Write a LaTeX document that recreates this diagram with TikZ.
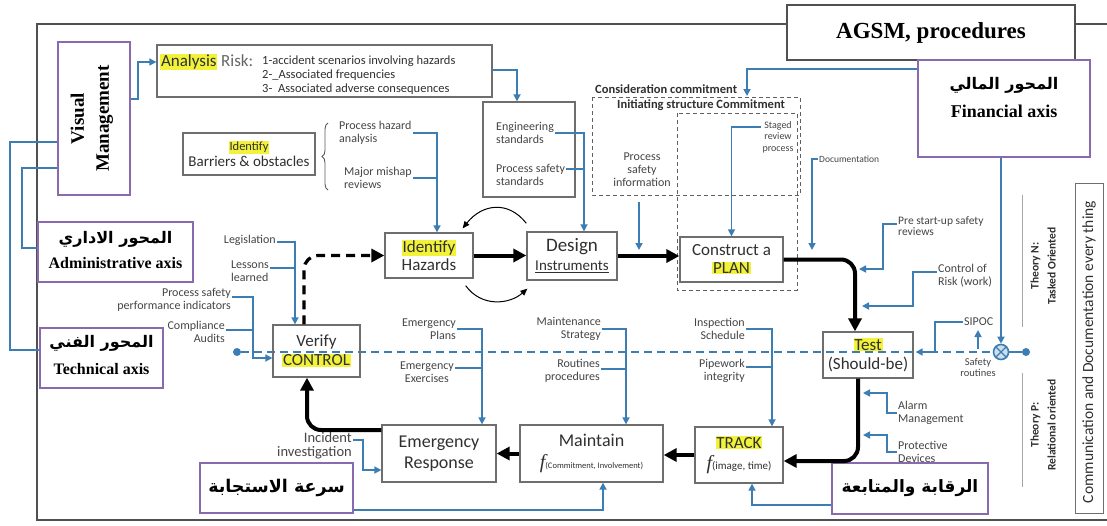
\documentclass[tikz,border=0pt]{standalone}
\usepackage{fontspec}
\setmainfont{Carlito}
\newfontfamily\tnr{Liberation Serif}
\newfontfamily\arabicfont[Script=Arabic]{DejaVu Sans}
\TeXXeTstate=1
\usetikzlibrary{arrows.meta,decorations.pathreplacing}
\definecolor{bl}{HTML}{3C7DB4}
\definecolor{pur}{HTML}{8A6AAE}
\definecolor{hly}{HTML}{F2F23A}
\definecolor{frm}{HTML}{505050}
\definecolor{bx}{HTML}{6E6E6E}
\definecolor{tx}{HTML}{303030}
\definecolor{lb}{HTML}{454545}
\newcommand\hy[1]{{\setlength{\fboxsep}{0.8pt}\colorbox{hly}{#1}}}
\newcommand\fs[2]{\fontsize{#1}{#2}\selectfont}
\begin{document}
\begin{tikzpicture}[x=1pt,y=-1pt,
  mbox/.style={draw=bx, line width=1.3pt, align=center, inner sep=1pt, text=tx},
  pbox/.style={draw=pur, line width=1.6pt, fill=white, inner sep=0pt},
  lbl/.style={font=\fs{12}{13}, text=lb, inner sep=1pt},
  bline/.style={draw=bl, line width=1.6pt},
  barr/.style={bline, -{Triangle[length=7pt,width=7pt]}},
  karr/.style={line width=4pt, -{Triangle[length=13pt,width=13pt]}, rounded corners=14pt},
  dbox/.style={draw=gray!75!black, line width=0.9pt, dash pattern=on 4pt off 3pt},
  arb/.style={font=\arabicfont\bfseries, inner sep=0pt},
  enb/.style={font=\tnr\bfseries, inner sep=0pt},
]
\useasboundingbox (0,0) rectangle (1107,525);
\fill[white] (0,0) rectangle (1107,525);
% outer frame
\draw[frm, line width=2.5pt] (37,24) rectangle (1125,520);

% ---------- dashed blue control line (behind boxes)
\node[circle, fill=bl, inner sep=0pt, minimum size=8pt] (dl) at (237,352) {};
\node[circle, draw=bl, fill=bl!25, line width=1.6pt, inner sep=0pt, minimum size=15pt] (cx) at (1001,352) {};
\draw[bl, line width=1.2pt] (cx.north east) -- (cx.south west) (cx.north west) -- (cx.south east);
\node[circle, fill=bl, inner sep=0pt, minimum size=8pt] (dr) at (1026,352) {};
\draw[bl, line width=2pt, dash pattern=on 8pt off 5pt] (dl) -- (cx.west);
\draw[bline] (cx.east) -- (dr);

% ---------- main boxes
\node[mbox, minimum width=88pt, minimum height=45pt, font=\fs{17}{18}] (ih) at (429,255.5) {\hy{Identify}\\Hazards};
\node[mbox, minimum width=90pt, minimum height=48pt, font=\fs{17}{19}] (di) at (572,256) {{\fs{19}{19}Design}\\{\fs{15}{16}\underline{Instruments}}};
\node[mbox, minimum width=103pt, minimum height=45pt, font=\fs{17}{18}] (cp) at (731.5,259.5) {Construct a\\\hy{PLAN}};
\node[mbox, minimum width=90pt, minimum height=46pt, font=\fs{17}{19}] (te) at (868,355) {\hy{Test}\\(Should-be)};
\node[mbox, minimum width=88pt, minimum height=56pt, font=\fs{17}{21}] (tr) at (739,455) {\hy{TRACK}\\{\tnr\itshape\fs{20}{20}f}{\fs{11}{12}(image, time)}};
\node[mbox, minimum width=143pt, minimum height=57pt, font=\fs{18}{22}] (ma) at (591.5,453.5) {Maintain\\{\tnr\itshape\fs{20}{20}f}{\fs{8.5}{10}(Commitment, Involvement)}};
\node[mbox, minimum width=114pt, minimum height=57pt, font=\fs{18}{21}] (er) at (439,453.5) {Emergency\\Response};
\node[mbox, minimum width=87pt, minimum height=52pt, font=\fs{17}{19}] (vc) at (316.5,351) {Verify\\\hy{CONTROL}};

% ---------- upper boxes
\node[mbox, minimum width=335pt, minimum height=52pt] (ar) at (324.5,71) {};
\node[anchor=west, font=\fs{17}{19}, inner sep=0pt, text=tx] (art) at (160,62) {\hy{Analysis} \textcolor{gray!80!black}{Risk:}};
\node[anchor=west, font=\fs{12.5}{14}, inner sep=0pt, text=tx, align=left] (arl) at (262,75.5) {1-accident scenarios involving hazards\\2-\_Associated frequencies\\3-\ \ Associated adverse consequences};
\node[mbox, minimum width=132pt, minimum height=42pt, font=\fs{15}{16}] (ib) at (249,154) {{\fs{12.5}{13}\hy{Identify}}\\Barriers \& obstacles};
\draw[gray!70!black, line width=0.9pt, decorate, decoration={brace, amplitude=6pt}] (328,190) -- (328,123);
\node[lbl, anchor=west, align=left] (pha) at (338,133) {Process hazard\\analysis};
\node[lbl, anchor=west, align=left] (mmr) at (343,178) {Major mishap\\reviews};
\node[mbox, minimum width=92pt, minimum height=95pt] (es) at (529,149.5) {};
\node[lbl, anchor=west, align=left] (en) at (495,133) {Engineering\\standards};
\node[lbl, anchor=west, align=left] (ps) at (495,175) {Process safety\\standards};

% dashed commitment boxes
\draw[dbox] (592,97) rectangle (800,195);
\draw[dbox] (677,113) rectangle (797,290);
\node[font=\bfseries\fs{12.5}{13}, text=tx, anchor=west, inner sep=0pt] (cc) at (595,89) {Consideration commitment};
\node[font=\bfseries\fs{12.5}{13}, text=tx, anchor=west, inner sep=0pt] (isc) at (617,105) {Initiating structure Commitment};
\node[lbl, align=center] (psi) at (642,170) {Process\\safety\\information};
\node[lbl, align=center, font=\fs{10}{11.5}] (srp) at (778,137) {Staged\\review\\process};

% AGSM and financial
\node[draw=frm, line width=2pt, fill=white, minimum width=288pt, minimum height=55pt, font=\tnr\bfseries\fs{23}{25}] (agsm) at (931,32.5) {AGSM, procedures};
\node[pbox, minimum width=172pt, minimum height=97pt] (fin) at (1004,108.5) {};
\node[arb, font=\arabicfont\bfseries\fs{16}{20}] (fina) at (1004,85) {\beginR المحور المالي\endR};
\node[enb, font=\tnr\bfseries\fs{18}{20}] (fine) at (1004,111) {Financial axis};
\node[lbl, anchor=west, font=\fs{9.5}{10}] (doc) at (818,159) {Documentation};

% left purple boxes
\node[pbox, minimum width=72pt, minimum height=153pt] (vm) at (94,118.5) {};
\node[rotate=90, align=center, font=\tnr\bfseries\fs{19}{25}] (vmt) at (92,118.5) {Visual\\Management};
\node[pbox, minimum width=155pt, minimum height=60pt] (ad) at (115.5,252) {};
\node[arb, font=\arabicfont\bfseries\fs{16}{18}] (ada) at (115.5,239) {\beginR المحور الاداري\endR};
\node[enb, font=\tnr\bfseries\fs{16}{18}] (ade) at (115.5,263) {Administrative axis};
\node[pbox, minimum width=123pt, minimum height=60pt] (tc) at (101.5,358) {};
\node[arb, font=\arabicfont\bfseries\fs{16}{18}] (tca) at (101.5,343) {\beginR المحور الفني\endR};
\node[enb, font=\tnr\bfseries\fs{16}{18}] (tce) at (101.5,369) {Technical axis};

% bottom purple boxes
\node[pbox, minimum width=153pt, minimum height=50pt, font=\arabicfont\bfseries\fs{17.5}{20}] (sr) at (276.5,488) {\beginR سرعة الاستجابة\endR};
\node[pbox, minimum width=156pt, minimum height=51pt, font=\arabicfont\bfseries\fs{17}{20}] (rq) at (910,488.5) {\beginR الرقابة والمتابعة\endR};

% right side
\draw[gray!70, line width=1pt] (1022,195) -- (1022,327);
\draw[gray!70, line width=1pt] (1022,373) -- (1022,487);
\node[rotate=90, align=center, font=\bfseries\fs{11.5}{17}, text=tx] (thn) at (1043,266) {Theory N:\\Tasked Oriented};
\node[rotate=90, align=center, font=\bfseries\fs{11.5}{17}, text=tx] (thp) at (1043,425) {Theory P:\\Relational oriented};
\node[draw=bx, line width=1pt, minimum width=28pt, minimum height=330pt] (com) at (1089,348) {};
\node[rotate=90, font=\fs{15.5}{17}, text=tx] (comt) at (1089,352) {Communication and Documentation every thing};

% ---------- labels
\node[lbl, anchor=east] (leg) at (277,240) {Legislation};
\node[lbl, anchor=east, align=left] (ll) at (270,271) {Lessons\\learned};
\node[lbl, anchor=east, align=right] (psp) at (232,300) {Process safety\\performance indicators};
\node[lbl, anchor=east, align=right] (ca) at (226,332) {Compliance\\Audits};
\node[lbl, anchor=east, align=right] (ep) at (457,329) {Emergency\\Plans};
\node[lbl, anchor=east, align=center] (ee) at (455,372) {Emergency\\Exercises};
\node[lbl, anchor=east, align=right] (ms) at (602,329) {Maintenance\\Strategy};
\node[lbl, anchor=east, align=right] (rp) at (601,371) {Routines\\procedures};
\node[lbl, anchor=east, align=right] (is) at (746,329) {Inspection\\Schedule};
\node[lbl, anchor=east, align=right] (pw) at (746,371) {Pipework\\integrity};
\node[lbl, anchor=north west, align=left, font=\fs{11.5}{11.5}] (psr) at (897,215) {Pre start-up safety\\reviews};
\node[lbl, anchor=west, align=left] (cr) at (937,276) {Control of\\Risk (work)};
\node[lbl, anchor=west] (sip) at (963,322) {SIPOC};
\node[lbl, align=center, font=\fs{10.5}{11}] (saf) at (978,367) {Safety\\routines};
\node[lbl, anchor=west, align=left] (am) at (897,413) {Alarm\\Management};
\node[lbl, anchor=west, align=left] (pd) at (897,452) {Protective\\Devices};
\node[lbl, anchor=east, align=right, font=\fs{14.5}{14}] (ii) at (353,446) {Incident\\investigation};

% ---------- thick black flow
\draw[karr] (ih.east) -- (ih.east -| di.west);
\draw[karr] (di.east) -- (di.east -| cp.west);
\draw[karr] (cp.east) -| ([xshift=-13pt]te.north);
\draw[karr] ([xshift=-10pt]te.south) |- ([yshift=-6pt]tr.east);
\draw[karr] (tr.west) -- (tr.west -| ma.east);
\draw[karr] (ma.west) -- (ma.west -| er.east);
\draw[karr] ([yshift=23.5pt]er.west) -| ([xshift=-9.5pt]vc.south);
\draw[line width=3.2pt, dash pattern=on 9pt off 6pt, -{Triangle[length=13pt,width=13pt]}, rounded corners=14pt] ([xshift=-12.5pt]vc.north) |- (ih.west);
% curved loops
\draw[line width=1pt, -{Triangle[length=7pt,width=6pt]}] ([yshift=8pt]di.north west) .. controls (508,200) and (482,204) .. ([xshift=-11pt,yshift=4pt]ih.north east);
\draw[line width=1pt, -{Triangle[length=7pt,width=6pt]}] ([xshift=-8pt,yshift=-7pt]ih.south east) .. controls (482,308) and (510,304) .. ([xshift=1pt,yshift=-8pt]di.south west);

% ---------- blue connectors
\draw[barr] ([yshift=19.5pt]vm.east) -- ++(7,0) |- ([yshift=9pt]ar.west);
\draw[barr] ([yshift=1pt]ar.east) -| ([xshift=-12pt]es.north);
\coordinate (v1) at ([xshift=8pt]ih.north);
\draw[barr] (pha.east) -| (v1);
\draw[bline] (mmr.east) -- (mmr.east -| v1);
\coordinate (v2) at ([xshift=12pt]di.north);
\draw[barr] (en.east) -| (v2);
\draw[bline] ([yshift=6pt]ps.east) -- ([yshift=6pt]ps.east -| v2);
\coordinate (psiA) at (639,202);
\coordinate (psiB) at (639,250);
\draw[barr] (psiA) -- (psiB);
\coordinate (finT) at (747,96);
\draw[barr] ([yshift=39.5pt]fin.west) -| (finT);
\draw[barr] ([yshift=10pt]srp.west) -| (cp.north);
\coordinate (docT) at (812,250);
\draw[barr] (doc.west) -| (docT);
\coordinate (t1) at (859,269);
\draw[barr] ([yshift=2pt]psr.west) -- ++(-14,0) |- (t1);
\coordinate (t2) at (862,306);
\draw[barr] ([yshift=4pt]cr.west) -- ++(-24,0) |- (t2);
\draw[barr] (sip.west) -- ++(-28,0) |- ([xshift=2pt,yshift=3pt]te.east);
\coordinate (s1) at (978,349);
\coordinate (s2) at (978,330);
\draw[barr] (s1) -- (s2);
\draw[barr] (cx.north |- fin.south) -- (cx.north);
\coordinate (t3) at (863,393);
\draw[barr] (am.west) -| (887,393) -- (t3);
\coordinate (t4) at (863,435);
\draw[barr] (pd.west) -| (887,435) -- (t4);
\draw[barr] ([yshift=-16.5pt]rq.west) -| ([xshift=13pt]tr.south);
\draw[barr] ([yshift=-22pt]sr.east) -| ([xshift=11.5pt]ma.south);
\draw[barr] ([yshift=6pt]ii.east) -- ++(10,0) |- ([yshift=-16.5pt]er.west);
\draw[barr] (ep.east) -| ([xshift=43pt]er.north);
\draw[bline] ([yshift=4pt]ee.east) -- ([yshift=4pt]ee.east -| 482,0);
\draw[barr] (ms.east) -| ([xshift=34.5pt]ma.north);
\draw[bline] ([yshift=2pt]rp.east) -- ([yshift=2pt]rp.east -| 626,0);
\draw[barr] (is.east) -| ([xshift=33pt]tr.north);
\draw[bline] ([yshift=4pt]pw.east) -- ([yshift=4pt]pw.east -| 772,0);
\draw[barr] ([yshift=-2pt]leg.east) -| ([xshift=-21.5pt]vc.north);
\draw[bline] ([yshift=3pt]ll.east) -- ([yshift=3pt]ll.east -| 295,0);
\draw[barr] ([yshift=3pt]psp.east) -- ++(21,0) |- ([yshift=-7pt]vc.west);
\draw[bline] ([yshift=2pt]ca.east) -- ([yshift=2pt]ca.east -| 253,0);
% left links
\draw[bline] ([yshift=-23.5pt]vm.west) -- (10,142) |- ([yshift=8pt]tc.west);
\draw[bline] ([yshift=-49.5pt]vm.west) -- (22,168) |- ([yshift=4pt]ad.west);
\end{tikzpicture}
\end{document}
